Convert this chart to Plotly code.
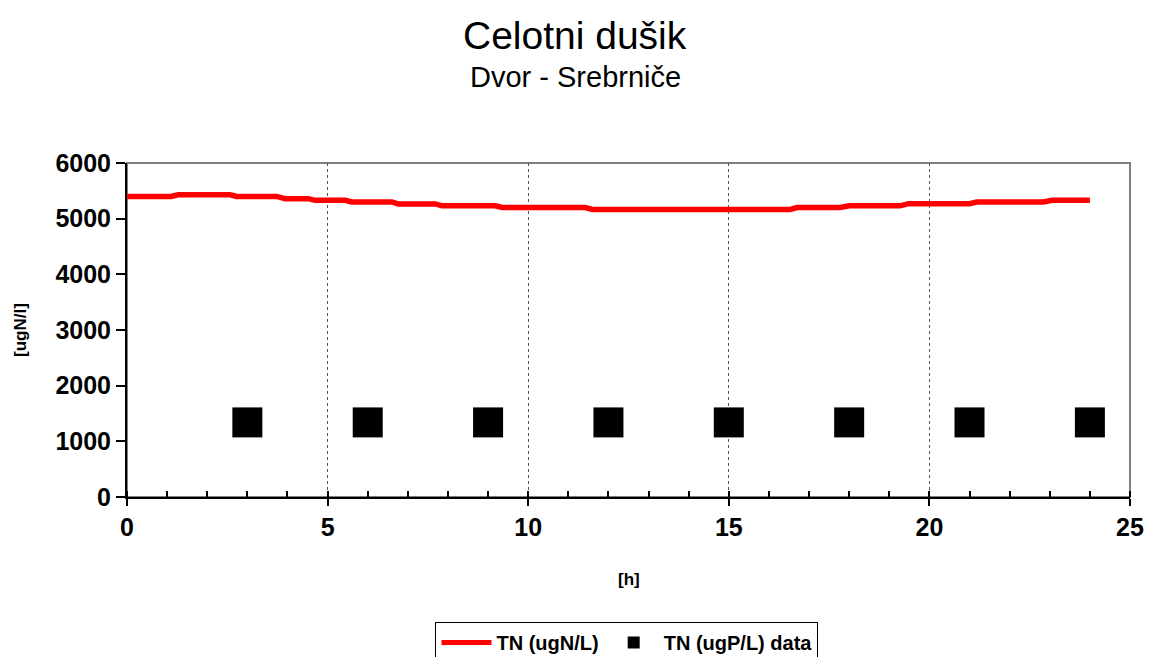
import plotly.graph_objects as go

# Simulated total nitrogen over the day (hours, ugN/L)
model_hours = [0, 1.1, 1.27, 2.57, 2.73, 3.73, 3.94, 4.52, 4.69, 5.44, 5.6, 6.6,
               6.76, 7.69, 7.85, 9.18, 9.35, 11.42, 11.6, 16.53, 16.7, 17.78,
               18.0, 19.27, 19.48, 21.0, 21.18, 22.84, 23.06, 24]
model_tn = [5400, 5400, 5430, 5430, 5400, 5400, 5360, 5360, 5330, 5330, 5300, 5300,
            5265, 5265, 5230, 5230, 5200, 5200, 5165, 5165, 5200, 5200,
            5230, 5230, 5270, 5270, 5300, 5300, 5330, 5330]

# Measured samples
sample_hours = [3, 6, 9, 12, 15, 18, 21, 24]
sample_tn = [1340, 1340, 1340, 1340, 1340, 1340, 1340, 1340]

FONT = "Liberation Sans, Arial, sans-serif"

fig = go.Figure()
fig.add_trace(go.Scatter(
    x=model_hours, y=model_tn, mode="lines", name="TN (ugN/L)",
    line=dict(color="#ff0000", width=5.5),
))
fig.add_trace(go.Scatter(
    x=sample_hours, y=sample_tn, mode="markers", name="TN (ugP/L) data",
    marker=dict(symbol="square", size=30, color="#000000"),
))

fig.update_layout(
    width=1155, height=657,
    margin=dict(l=127, r=25, t=163, b=160, autoexpand=False),
    paper_bgcolor="white", plot_bgcolor="white",
    font=dict(family=FONT, color="black"),
    showlegend=True,
    legend=dict(
        orientation="h", x=0.4985, xanchor="center", y=-0.374, yanchor="top",
        bordercolor="black", borderwidth=1, bgcolor="white",
        font=dict(size=20, weight="bold"), itemsizing="constant",
        itemwidth=50, tracegroupgap=0,
    ),
    xaxis=dict(
        range=[0, 25], dtick=5, tick0=0,
        showgrid=True, gridcolor="#555555", gridwidth=1, griddash="dot",
        showline=True, linecolor="black", linewidth=2,
        ticks="outside", ticklen=7, tickwidth=2, tickcolor="black",
        minor=dict(dtick=1, ticks="inside", ticklen=6, tickwidth=2,
                   tickcolor="black", showgrid=False),
        tickfont=dict(size=25, weight="bold"),
        zeroline=False,
    ),
    yaxis=dict(
        range=[0, 6000], dtick=1000,
        showgrid=False, zeroline=False,
        showline=True, linecolor="black", linewidth=2,
        ticks="outside", ticklen=9, tickwidth=2, tickcolor="black",
        tickfont=dict(size=25, weight="bold"),
    ),
    shapes=[dict(
        type="rect", xref="paper", yref="paper", x0=0, x1=1, y0=0, y1=1,
        line=dict(color="#808080", width=2), layer="below",
    )],
    annotations=[
        dict(text="Celotni dušik", xref="paper", yref="paper",
             x=0.4467, y=1.383, xanchor="center", yanchor="middle",
             showarrow=False, font=dict(size=39)),
        dict(text="Dvor - Srebrniče", xref="paper", yref="paper",
             x=0.4467, y=1.257, xanchor="center", yanchor="middle",
             showarrow=False, font=dict(size=29)),
        dict(text="[h]", xref="paper", yref="paper",
             x=0.5, y=-0.2485, xanchor="center", yanchor="middle",
             showarrow=False, font=dict(size=17, weight="bold")),
        dict(text="[ugN/l]", xref="paper", yref="paper",
             x=-0.1067, y=0.5, xanchor="center", yanchor="middle",
             textangle=-90, showarrow=False, font=dict(size=17, weight="bold")),
    ],
)

fig.write_html("out.html")
